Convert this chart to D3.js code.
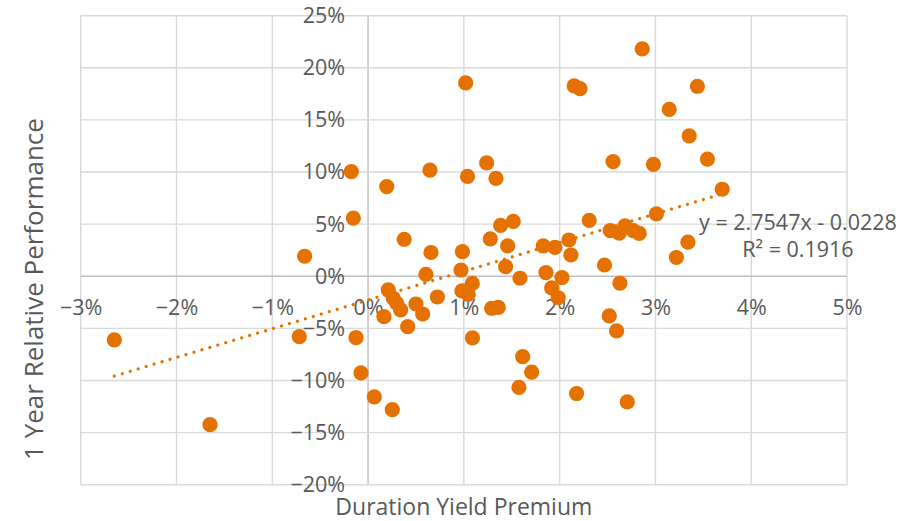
<!DOCTYPE html>
<html>
<head>
<meta charset="utf-8">
<script src="https://cdn.jsdelivr.net/npm/d3@7"></script>
<style>
  html, body { margin: 0; padding: 0; background: #ffffff; }
  svg { display: block; }
  text { font-family: "Open Sans", "Noto Sans", sans-serif; fill: #595959; }
</style>
</head>
<body>
<svg id="chart" width="913" height="521"></svg>
<script>
// Duration yield premium (x) vs. 1-year relative performance (y), as fractions
const durationPremium = [
  -0.02649, -0.01650, -0.00662, -0.00718, -0.00175, -0.00154, -0.00126, -0.00074,
   0.00065,  0.00253,  0.00195,  0.00377,  0.00646,  0.01019,  0.01038,  0.00657,
   0.00985,  0.02862,  0.02152,  0.02212,  0.03438,  0.03144,  0.03353,  0.03543,
   0.02558,  0.02979,  0.01238,  0.01335,  0.03697,  0.03010,  0.02309,  0.01384,
   0.01516,  0.01276,  0.01457,  0.02528,  0.02622,  0.02682,  0.02768,  0.02831,
   0.03339,  0.03219,  0.01829,  0.01951,  0.02097,  0.02118,  0.01436,  0.01586,
   0.01857,  0.02024,  0.01917,  0.01985,  0.02468,  0.02629,  0.02518,  0.02595,
   0.02706,  0.02177,  0.01575,  0.01708,  0.01614,  0.01090,  0.01290,  0.01359,
   0.01088,  0.00980,  0.01046,  0.00970,  0.00604,  0.00724,  0.00500,  0.00570,
   0.00414,  0.00166,  0.00211,  0.00263,  0.00299,  0.00340
];
const relativePerformance = [
  -0.0611, -0.1424,  0.0192, -0.0580,  0.1004,  0.0557, -0.0589, -0.0928,
  -0.1158, -0.1280,  0.0860,  0.0355,  0.1018,  0.1855,  0.0958,  0.0228,
   0.0236,  0.2181,  0.1826,  0.1800,  0.1823,  0.1601,  0.1346,  0.1124,
   0.1100,  0.1073,  0.1087,  0.0939,  0.0835,  0.0598,  0.0536,  0.0488,
   0.0526,  0.0358,  0.0291,  0.0438,  0.0413,  0.0483,  0.0438,  0.0411,
   0.0327,  0.0180,  0.0291,  0.0278,  0.0348,  0.0204,  0.0092, -0.0019,
   0.0035, -0.0012, -0.0112, -0.0206,  0.0108, -0.0067, -0.0381, -0.0525,
  -0.1206, -0.1125, -0.1067, -0.0920, -0.0772, -0.0592, -0.0307, -0.0299,
  -0.0069, -0.0141, -0.0175,  0.0060,  0.0019, -0.0199, -0.0266, -0.0362,
  -0.0484, -0.0388, -0.0131, -0.0211, -0.0259, -0.0323
];

// Axis ticks
const xTicks = [-0.03, -0.02, -0.01, 0, 0.01, 0.02, 0.03, 0.04, 0.05];
const yTicks = [-0.20, -0.15, -0.10, -0.05, 0, 0.05, 0.10, 0.15, 0.20, 0.25];

// Linear trendline fitted to the series
const trendSlope = 2.7547;
const trendIntercept = -0.0228;
const trendR2 = 0.1916;

const xTitle = "Duration Yield Premium";
const yTitle = "1 Year Relative Performance";

const svg = d3.select("#chart");
const plotLeft = 80.7, plotRight = 847, plotTop = 15.7, plotBottom = 484.7;

const x = d3.scaleLinear().domain([-0.03, 0.05]).range([plotLeft, plotRight]);
const y = d3.scaleLinear().domain([-0.20, 0.25]).range([plotBottom, plotTop]);
const pct = d3.format(".0%");

// Gridlines (the zero lines are a shade darker)
const grid = svg.append("g");
grid.selectAll("line.v").data(xTicks).join("line")
  .attr("class", "v")
  .attr("x1", d => x(d)).attr("x2", d => x(d))
  .attr("y1", plotTop).attr("y2", plotBottom)
  .attr("stroke", d => d === 0 ? "#BFBFBF" : "#D9D9D9")
  .attr("stroke-width", 1.4);
grid.selectAll("line.h").data(yTicks).join("line")
  .attr("class", "h")
  .attr("y1", d => y(d)).attr("y2", d => y(d))
  .attr("x1", plotLeft).attr("x2", plotRight)
  .attr("stroke", d => d === 0 ? "#BFBFBF" : "#D9D9D9")
  .attr("stroke-width", 1.4);

// Tick labels placed along the zero axes
const yAxis = svg.append("g")
  .attr("transform", `translate(${x(0)},0)`)
  .call(d3.axisLeft(y).tickValues(yTicks).tickSize(0).tickPadding(23).tickFormat(pct));
const xAxis = svg.append("g")
  .attr("transform", `translate(0,${y(0)})`)
  .call(d3.axisBottom(x).tickValues(xTicks).tickSize(0).tickPadding(23).tickFormat(pct));
[xAxis, yAxis].forEach(a => {
  a.select(".domain").remove();
  a.selectAll("text")
    .attr("fill", "#595959")
    .style("font-family", '"Open Sans", sans-serif')
    .style("font-size", "21.5px");
});

// Scatter points
const points = durationPremium.map((d, i) => ({ x: d, y: relativePerformance[i] }));
svg.append("g").selectAll("circle").data(points).join("circle")
  .attr("cx", d => x(d.x))
  .attr("cy", d => y(d.y))
  .attr("r", 7.6)
  .attr("fill", "#E57200");

// Dotted trendline over the data's x-range
const xExtent = d3.extent(durationPremium);
const trend = xExtent.map(v => ({ x: v, y: trendSlope * v + trendIntercept }));
svg.append("path")
  .datum(trend)
  .attr("d", d3.line().x(d => x(d.x)).y(d => y(d.y)))
  .attr("fill", "none")
  .attr("stroke", "#E57200")
  .attr("stroke-width", 3.2)
  .attr("stroke-linecap", "round")
  .attr("stroke-dasharray", "0.01 8.3");

// Trendline equation label
const eq = svg.append("g").attr("font-size", 21.5).attr("text-anchor", "middle");
eq.append("text").attr("x", 798).attr("y", 221).attr("dominant-baseline", "central")
  .text(`y = ${trendSlope}x - ${Math.abs(trendIntercept)}`);
eq.append("text").attr("x", 798).attr("y", 248).attr("dominant-baseline", "central")
  .text(`R² = ${trendR2}`);

// Axis titles
svg.append("text")
  .attr("x", (plotLeft + plotRight) / 2).attr("y", 505.5)
  .attr("text-anchor", "middle").attr("dominant-baseline", "central")
  .attr("font-size", 23)
  .text(xTitle);
svg.append("text")
  .attr("transform", "translate(33,289) rotate(-90)")
  .attr("text-anchor", "middle").attr("dominant-baseline", "central")
  .attr("font-size", 26)
  .text(yTitle);
</script>
</body>
</html>
